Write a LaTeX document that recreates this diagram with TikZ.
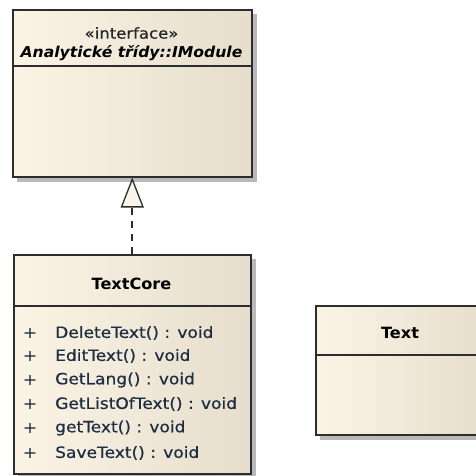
\documentclass[tikz,border=0pt]{standalone}
\usepackage{fontspec}
\newfontfamily\umlfont[FakeStretch=1.1, FakeBold=0.6]{DejaVu Sans}
\newfontfamily\umlbold[FakeStretch=1.04]{DejaVu Sans}
\usetikzlibrary{arrows.meta}
\definecolor{creamL}{RGB}{251,244,229}
\definecolor{creamR}{RGB}{230,221,204}
\definecolor{tri}{RGB}{250,245,232}
\definecolor{edge}{RGB}{45,45,45}
\definecolor{shade}{RGB}{185,185,185}
\definecolor{optext}{RGB}{30,46,66}
\tikzset{
  umlbox/.style={draw=edge, line width=1.5pt, rectangle, anchor=north west, inner sep=0pt,
    left color=creamL, right color=creamR},
  shadowbox/.style={fill=shade, draw=none},
  divider/.style={draw=edge, line width=1.5pt},
  stereo/.style={font=\umlfont\fontsize{15}{17}\selectfont, text=black!85, inner sep=0pt},
  ititle/.style={font=\umlbold\fontsize{15}{17}\selectfont\bfseries\itshape, text=black, inner sep=0pt},
  ctitle/.style={font=\umlbold\fontsize{15.5}{17}\selectfont\bfseries, text=black, inner sep=0pt},
  op/.style={font=\umlfont\fontsize{15.5}{17}\selectfont, text=optext, anchor=west, inner sep=0pt},
  vis/.style={font=\umlfont\fontsize{15.5}{17}\selectfont, text=optext, inner sep=0pt},
  realize/.style={draw=edge, line width=1.6pt, dash pattern=on 7pt off 6pt,
    -{Triangle[length=30pt, width=23pt, fill=tri, line width=1.3pt]}}
}
\begin{document}
\begin{tikzpicture}[x=1pt, y=-1pt]
\useasboundingbox (0,0) rectangle (476,475);
% shadows
\fill[shadowbox] (17,14) rectangle (257,182);
\fill[shadowbox] (18,259) rectangle (256,480);
\fill[shadowbox] (320,310) rectangle (492,440);
% interface
\node[umlbox, minimum width=239pt, minimum height=167pt] (iface) at (12,9) {};
\draw[divider] (12,66) -- (251,66);
\node[stereo] (ister) at (131.5,33) {«interface»};
\node[ititle] (iname) at (131.5,53) {Analytické třídy::IModule};
% TextCore
\node[umlbox, minimum width=237pt, minimum height=219pt] (core) at (13,254) {};
\draw[divider] (13,306) -- (250,306);
\node[ctitle] (cname) at (131.5,284) {TextCore};
\node[vis] (v1) at (30,333) {+};
\node[op] (o1) at (55,333) {DeleteText() : void};
\node[vis] (v2) at (30,356) {+};
\node[op] (o2) at (55,356) {EditText() : void};
\node[vis] (v3) at (30,380) {+};
\node[op] (o3) at (55,380) {GetLang() : void};
\node[vis] (v4) at (30,404) {+};
\node[op] (o4) at (55,404) {GetListOfText() : void};
\node[vis] (v5) at (30,428) {+};
\node[op] (o5) at (55,428) {getText() : void};
\node[vis] (v6) at (30,453) {+};
\node[op] (o6) at (55,453) {SaveText() : void};
% Text
\node[umlbox, minimum width=171pt, minimum height=129pt] (text) at (315,305) {};
\draw[divider] (315,355) -- (486,355);
\node[ctitle] (tname) at (400,333) {Text};
% realization
\draw[realize] (core.north) -- (iface.south);
\end{tikzpicture}
\end{document}
